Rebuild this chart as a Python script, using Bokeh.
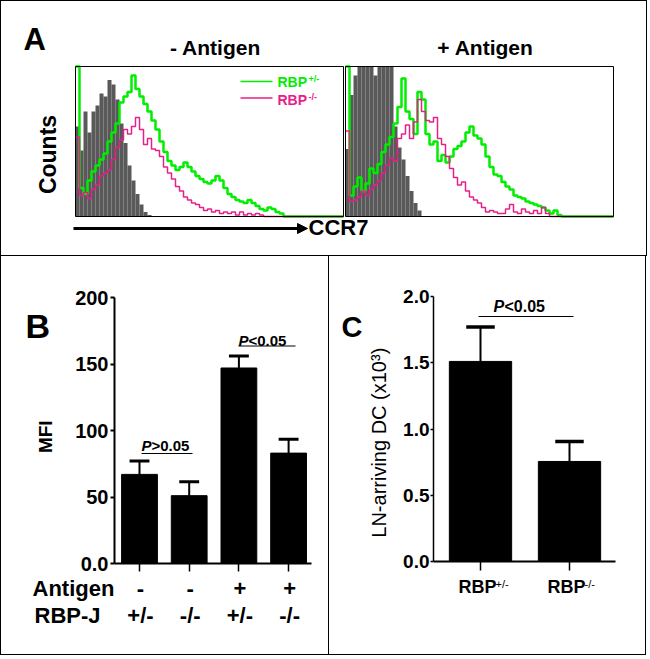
import math
import numpy as np
from bokeh.plotting import figure
from bokeh.layouts import column, row
from bokeh.models import Range1d, Label, Arrow, NormalHead, FixedTicker, NumeralTickFormatter
from bokeh.core.properties import value
from bokeh.embed import file_html
from bokeh.resources import INLINE

FONT = "Liberation Sans"
GREEN = "#00EE00"
PINK = "#E6208A"
GRAY = "#595959"
BORDER = "1px solid black"

# ---------------- data ----------------
# Panel A: CCR7 histograms (% of max counts per channel bin)
gray_minus = [60, 44, 70, 56, 70, 74, 82, 80, 91, 88, 78, 62, 49, 34, 24, 15, 8, 3, 1, 0,
              0, 0, 0, 0, 0, 0, 0, 0, 0, 0, 0, 0, 0, 0, 0, 0, 0, 0, 0, 0,
              0, 0, 0, 0, 0, 0, 0, 0, 0, 0, 0, 0, 0, 0, 0, 0, 0, 0, 0, 0,
              0, 0, 0, 0, 0, 0, 0]
green_minus = [100, 19, 15, 24, 30, 34, 38, 42, 50, 56, 62, 76, 80, 83, 94, 85, 80, 75, 70, 64,
               58, 50, 43, 37, 34, 31, 33, 36, 33, 30, 27, 25, 23, 22, 24, 27, 24, 19, 15, 13,
               11, 10, 9, 11, 9, 7, 5, 4, 6, 5, 3, 2, 0, 0, 0, 0, 0, 0, 0, 0,
               0, 0, 0, 0, 0, 0, 0]
pink_minus = [53, 14, 16, 12, 18, 21, 27, 29, 31, 38, 46, 51, 58, 55, 60, 66, 58, 48, 52, 45,
              44, 40, 33, 29, 25, 20, 17, 13, 11, 9, 8, 6, 4, 5, 3, 4, 2, 3, 2, 3,
              1, 3, 1, 2, 1, 2, 1, 0, 0, 0, 0, 0, 0, 0, 0, 0, 0, 0, 0, 0,
              0, 0, 0, 0, 0, 0, 0]
gray_plus = [45, 81, 94, 100, 100, 100, 100, 94, 100, 100, 100, 100, 60, 46, 38, 27, 17, 9, 4, 0,
             0, 0, 0, 0, 0, 0, 0, 0, 0, 0, 0, 0, 0, 0, 0, 0, 0, 0, 0, 0,
             0, 0, 0, 0, 0, 0, 0, 0, 0, 0, 0, 0, 0, 0, 0, 0, 0, 0, 0, 0,
             0, 0, 0, 0, 0, 0, 0]
green_plus = [100, 14, 20, 26, 17, 22, 32, 29, 35, 43, 48, 53, 62, 73, 92, 70, 65, 55, 83, 78,
              55, 48, 50, 37, 41, 36, 40, 45, 47, 50, 56, 60, 54, 52, 48, 40, 33, 28, 27, 23,
              20, 18, 14, 13, 12, 10, 9, 8, 7, 6, 4, 2, 4, 1, 0, 0, 0, 0, 0, 0,
              0, 0, 0, 0, 0, 0, 0]
pink_plus = [57, 10, 11, 13, 17, 14, 18, 21, 24, 29, 34, 39, 37, 52, 55, 61, 52, 63, 78, 70,
             64, 63, 66, 52, 48, 40, 32, 26, 21, 23, 17, 13, 11, 9, 6, 3, 4, 3, 2, 2,
             5, 8, 3, 2, 5, 3, 2, 4, 2, 6, 2, 0, 0, 0, 0, 0, 0, 0, 0, 0,
             0, 0, 0, 0, 0, 0, 0]
hist_titles = ["- Antigen", "+ Antigen"]
legend_names = ["RBP", "RBP"]
legend_sups = ["+/-", "-/-"]

# Panel B: MFI
b_antigen = ["-", "-", "+", "+"]
b_rbpj = ["+/-", "-/-", "+/-", "-/-"]
b_mfi = [67, 51, 147, 83]
b_err = [10, 10.5, 9, 10.5]
b_ticks = [0, 50, 100, 150, 200]

# Panel C: LN-arriving DC (x10^3)
c_groups = ["RBP", "RBP"]
c_sups = ["+/-", "-/-"]
c_dc = [1.51, 0.755]
c_err = [0.26, 0.15]
c_ticks = [0, 0.5, 1.0, 1.5, 2.0]

SPLIT = 577  # y where the upper plot row meets the label strip in panels B and C


def lab(p, x, y, text, size, style="bold", align="left", angle=0.0, color="black"):
    p.add_layout(Label(x=x, y=y, text=text, angle=angle, text_align=align, text_baseline="middle",
                       text_font=FONT, text_font_style=style, text_font_size=size, text_color=color))


def strip(width, height, xr, yr, styles):
    s = figure(width=width, height=height, x_range=xr, y_range=yr, min_border=0,
               x_axis_location=None, y_axis_location=None, output_backend="svg",
               toolbar_location=None, styles=styles)
    s.grid.visible = False
    s.outline_line_color = None
    return s


def style_axes(p, yticks, ysize, ywidth, ytick_out, xticks, xtick_out):
    p.grid.visible = False
    p.outline_line_color = None
    p.yaxis.ticker = FixedTicker(ticks=yticks)
    p.yaxis.minor_tick_line_color = None
    p.yaxis.major_tick_out = ytick_out
    p.yaxis.major_tick_in = 0
    p.yaxis.major_tick_line_width = ywidth
    p.yaxis.major_tick_line_color = "black"
    p.yaxis.axis_line_width = ywidth
    p.yaxis.axis_line_color = "black"
    p.yaxis.major_label_standoff = 2
    p.yaxis.major_label_text_font = FONT
    p.yaxis.major_label_text_font_style = "bold"
    p.yaxis.major_label_text_font_size = ysize
    p.yaxis.major_label_text_color = "black"
    # category positions carry tick marks only; their labels are drawn underneath
    p.xaxis.ticker = FixedTicker(ticks=[], minor_ticks=xticks)
    p.xaxis.minor_tick_out = xtick_out
    p.xaxis.minor_tick_in = 0
    p.xaxis.minor_tick_line_width = 1.5
    p.xaxis.minor_tick_line_color = "black"
    p.xaxis.major_tick_line_color = None
    p.xaxis.major_label_standoff = 0
    p.xaxis.axis_line_width = 2
    p.xaxis.axis_line_color = "black"


# ---------------- Panel A ----------------
def ax(px):
    return (px - 75) / 4.0


def ay(py):
    return (216 - py) / 1.5


figA = strip(647, 256, Range1d(ax(1), ax(648)), Range1d(ay(257), ay(1)), {"border": BORDER})

n = len(green_minus)
offsets = [0.0, n + 0.5]
series = [(gray_minus, green_minus, pink_minus), (gray_plus, green_plus, pink_plus)]
for off, (g, gr, pk) in zip(offsets, series):
    idx = np.arange(len(g))
    figA.quad(left=off + idx, right=off + idx + 1, bottom=0, top=np.array(g, dtype=float),
              fill_color=GRAY, line_color=None)
    edges = off + np.arange(len(gr) + 1)
    figA.step(x=edges, y=np.array(gr + [gr[-1]], dtype=float), mode="after", line_color=GREEN, line_width=2.5)
    figA.step(x=edges, y=np.array(pk + [pk[-1]], dtype=float), mode="after", line_color=PINK, line_width=1.5)
    figA.quad(left=off, right=off + len(g), bottom=0, top=100, fill_color=None, line_color="black", line_width=1)

for off, t in zip(offsets, hist_titles):
    lab(figA, off + n / 2.0 + 1.5, ay(46.5), t, "21px", align="center")

lab(figA, ax(23), ay(39), "A", "31px")
lab(figA, ax(47), ay(154), "Counts", "23px", align="center", angle=math.pi / 2)
figA.add_layout(Arrow(x_start=ax(73), y_start=ay(228), x_end=ax(307), y_end=ay(228), line_width=3,
                      line_color="black",
                      end=NormalHead(size=10, fill_color="black", line_color="black", line_width=1)))
lab(figA, ax(308), ay(227), "CCR7", "22px")

for k, (nm, sp, col) in enumerate(zip(legend_names, legend_sups, [GREEN, PINK])):
    yl = [81, 97.5][k]
    yc = [81, 99][k]
    figA.segment(x0=ax(240), y0=ay(yl), x1=ax(272), y1=ay(yl), line_color=col, line_width=1.5)
    lab(figA, ax(277), ay(yc), nm, "14px", color=col)
    lab(figA, ax(308), ay(yc - 3), sp, "9px", color=col)

# ---------------- Panel B ----------------
def bx(px):
    return (px - 140) / 49.7


def by(py):
    return (565 - py) / 1.33


up_h = SPLIT - 258
low_h = 657 - SPLIT

stripB_left = strip(60, up_h, Range1d(1, 61), Range1d(SPLIT, 258), {"border-left": BORDER})
lab(stripB_left, 25, 292.5, "B", "34px")
lab(stripB_left, 45, 425, "MFI", "19px", align="center", angle=math.pi / 2)

figB = figure(width=269, height=up_h, x_range=Range1d(bx(115), bx(312)), y_range=Range1d(0, 200),
              min_border_left=54, min_border_right=18, min_border_top=41, min_border_bottom=up_h - 307,
              output_backend="svg", toolbar_location=None, styles={"border-right": BORDER})
xb = np.arange(len(b_mfi))
mfi = np.array(b_mfi, dtype=float)
err = np.array(b_err, dtype=float)
figB.vbar(x=xb, top=mfi, width=0.72, fill_color="black", line_color="black")
figB.segment(x0=xb, y0=mfi, x1=xb, y1=mfi + err, line_color="black", line_width=2)
figB.segment(x0=xb - 0.2, y0=mfi + err, x1=xb + 0.2, y1=mfi + err, line_color="black", line_width=3)
style_axes(figB, b_ticks, "20px", 2, 4, list(xb), 8)
figB.yaxis.major_label_overrides = {0: "0.0"}

for (x0p, x1p, yc, ul, sign) in [(142, 193, 447, 455, ">0.05"), (239, 296, 341.5, 347.5, "<0.05")]:
    lab(figB, bx(x0p), by(yc), "P", "15px", style="bold italic")
    lab(figB, bx(x0p + 10), by(yc), sign, "15px")
    figB.segment(x0=bx(x0p), y0=by(ul), x1=bx(x1p), y1=by(ul), line_color="black", line_width=1)

stripB_bottom = strip(329, low_h, Range1d(bx(1), bx(330)), Range1d(657, SPLIT),
                      {"border-left": BORDER, "border-right": BORDER, "border-bottom": BORDER})
lab(stripB_bottom, bx(32), 590, "Antigen", "22px")
lab(stripB_bottom, bx(34), 617, "RBP-J", "22px")
stripB_bottom.text(x=xb, y=590, text=b_antigen, text_align="center", text_baseline="middle",
                   text_font=value(FONT), text_font_style="bold", text_font_size="22px", text_color="black")
stripB_bottom.text(x=xb, y=617, text=b_rbpj, text_align="center", text_baseline="middle",
                   text_font=value(FONT), text_font_style="bold", text_font_size="22px", text_color="black")

# ---------------- Panel C ----------------
def cx(px):
    return (px - 482) / 89.0


def cy(py):
    return (563 - py) / 132.5


stripC_left = strip(64, up_h, Range1d(331, 395), Range1d(SPLIT, 258), {})
lab(stripC_left, 343, 295, "C", "29px")
lab(stripC_left, 380, 434, "LN-arriving DC (x10\u00b3)", "20px", style="normal", align="center",
    angle=math.pi / 2)

figC = figure(width=253, height=up_h, x_range=Range1d(cx(435), cx(617)), y_range=Range1d(0, 2),
              min_border_left=40, min_border_right=31, min_border_top=40, min_border_bottom=up_h - 305,
              output_backend="svg", toolbar_location=None, styles={"border-right": BORDER})
xc = np.arange(len(c_dc))
dc = np.array(c_dc)
dce = np.array(c_err)
figC.vbar(x=xc, top=dc, width=0.7, fill_color="black", line_color="black")
figC.segment(x0=xc, y0=dc, x1=xc, y1=dc + dce, line_color="black", line_width=2)
figC.segment(x0=xc - 0.16, y0=dc + dce, x1=xc + 0.16, y1=dc + dce, line_color="black", line_width=3.5)
style_axes(figC, c_ticks, "19px", 1.5, 3, list(xc), 9)
figC.yaxis.formatter = NumeralTickFormatter(format="0.0")
figC.yaxis.major_label_standoff = 1

lab(figC, cx(495), cy(308.3), "P", "16px", style="bold italic")
lab(figC, cx(506), cy(308.3), "<0.05", "16px")
figC.segment(x0=cx(480), y0=cy(318), x1=cx(575), y1=cy(318), line_color="black", line_width=1)

stripC_bottom = strip(317, low_h, Range1d(cx(331), cx(648)), Range1d(657, SPLIT),
                      {"border-right": BORDER, "border-bottom": BORDER})
stripC_bottom.text(x=xc, y=588.5, text=c_groups, x_offset=-22, text_align="left", text_baseline="middle",
                   text_font=value(FONT), text_font_style="bold", text_font_size="18px", text_color="black")
stripC_bottom.text(x=xc, y=585, text=c_sups, x_offset=15, text_align="left", text_baseline="middle",
                   text_font=value(FONT), text_font_size="11px", text_color="black")

panelB = column(row(stripB_left, figB, spacing=0), stripB_bottom, spacing=0)
panelC = column(row(stripC_left, figC, spacing=0), stripC_bottom, spacing=0)
layout = column(figA, row(panelB, panelC, spacing=0), spacing=0)
open("out.html", "w").write(file_html(layout, INLINE))
